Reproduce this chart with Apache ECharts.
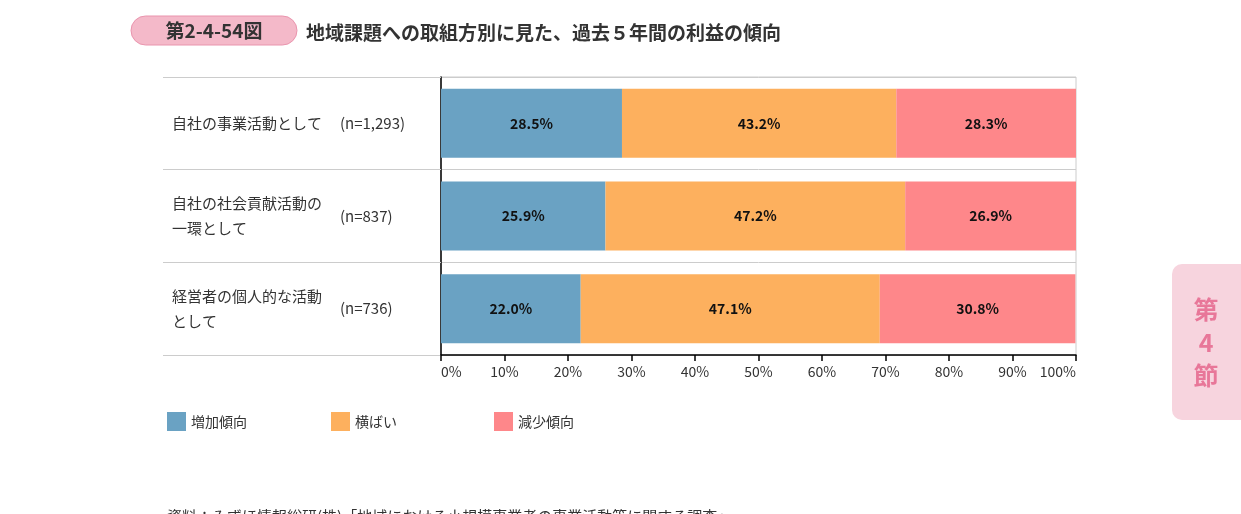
<!DOCTYPE html>
<html>
<head>
<meta charset="utf-8">
<script src="https://cdn.jsdelivr.net/npm/echarts@6/dist/echarts.min.js"></script>
<style>
  html, body { margin: 0; padding: 0; background: #fff; }
  #chart { width: 1241px; height: 514px; }
</style>
</head>
<body>
<div id="chart"></div>
<script>
var categories = ['自社の事業活動として', '自社の社会貢献活動の\n一環として', '経営者の個人的な活動\nとして'];
var sampleSizes = ['(n=1,293)', '(n=837)', '(n=736)'];
var seriesNames = ['増加傾向', '横ばい', '減少傾向'];
var increase = [28.5, 25.9, 22.0];
var flat = [43.2, 47.2, 47.1];
var decrease = [28.3, 26.9, 30.8];
var colors = ['#6aa2c3', '#fdb05e', '#fe878a'];
var legendLefts = [167, 331, 494];

var font = "'Noto Sans CJK JP', 'Noto Sans', sans-serif";
var myChart = echarts.init(document.getElementById('chart'));

function barSeries(name, data, color) {
  return {
    name: name,
    type: 'bar',
    stack: 'total',
    yAxisIndex: 0,
    barWidth: 69,
    data: data,
    itemStyle: { color: color },
    label: {
      show: true,
      position: 'inside',
      color: '#111',
      fontFamily: font,
      fontSize: 14,
      fontWeight: 'bold',
      formatter: function (p) { return p.value.toFixed(1) + '%'; }
    }
  };
}

var legends = seriesNames.map(function (name, i) {
  return {
    left: legendLefts[i],
    top: 412,
    padding: 0,
    itemWidth: 19,
    itemHeight: 19,
    itemGap: 8,
    icon: 'rect',
    textStyle: { fontSize: 14, color: '#333', fontFamily: font },
    data: [name]
  };
});

var option = {
  animation: false,
  textStyle: { fontFamily: font },
  title: {
    text: '地域課題への取組方別に見た、過去５年間の利益の傾向',
    left: 301,
    top: 18,
    textStyle: { fontSize: 19, fontWeight: 'bold', color: '#333', fontFamily: font }
  },
  grid: {
    left: 441, right: 165, top: 77, bottom: 159,
    show: true, borderColor: '#cccccc', borderWidth: 1
  },
  legend: legends,
  xAxis: {
    type: 'value',
    min: 0,
    max: 100,
    interval: 10,
    splitLine: { show: false },
    axisLine: { show: true, lineStyle: { color: '#000', width: 1.5 } },
    axisTick: { show: true, length: 6, lineStyle: { color: '#000', width: 1.5 } },
    axisLabel: {
      formatter: '{value}%',
      fontSize: 14,
      color: '#333',
      margin: 10,
      alignMinLabel: 'left',
      alignMaxLabel: 'right'
    }
  },
  yAxis: [
    {
      type: 'category',
      inverse: true,
      data: categories,
      axisLine: { show: true, lineStyle: { color: '#000', width: 1.5 } },
      axisTick: { show: true, length: 278, lineStyle: { color: '#cccccc', width: 1 } },
      splitLine: { show: true, lineStyle: { color: '#cccccc', width: 1 } },
      axisLabel: {
        align: 'left',
        margin: 269,
        fontSize: 15,
        lineHeight: 25,
        color: '#333'
      }
    },
    {
      type: 'category',
      inverse: true,
      position: 'left',
      data: sampleSizes,
      axisLine: { show: false },
      axisTick: { show: false },
      axisLabel: {
        align: 'left',
        margin: 101,
        fontSize: 15,
        color: '#333'
      }
    }
  ],
  series: [
    barSeries(seriesNames[0], increase, colors[0]),
    barSeries(seriesNames[1], flat, colors[1]),
    barSeries(seriesNames[2], decrease, colors[2])
  ],
  graphic: [
    {
      type: 'rect',
      shape: { x: 131, y: 16, width: 166, height: 29, r: 14.5 },
      style: { fill: '#f4b9c9', stroke: '#e994ad', lineWidth: 1 }
    },
    {
      type: 'text',
      x: 214,
      y: 30.5,
      style: {
        text: '第2-4-54図',
        fill: '#333',
        font: 'bold 19px ' + font,
        align: 'center',
        verticalAlign: 'middle'
      }
    },
    {
      type: 'rect',
      shape: { x: 1172, y: 264, width: 80, height: 156, r: 10 },
      style: { fill: '#f7d4de' }
    },
    {
      type: 'text',
      x: 1206,
      y: 342,
      style: {
        text: '第\n4\n節',
        fill: '#e87799',
        font: 'bold 25px ' + font,
        lineHeight: 33,
        align: 'center',
        verticalAlign: 'middle'
      }
    },
    {
      type: 'text',
      x: 167,
      y: 509,
      style: {
        text: '資料：みずほ情報総研(株)「地域における小規模事業者の事業活動等に関する調査」',
        fill: '#333',
        font: '15px ' + font
      }
    }
  ]
};

myChart.setOption(option);
</script>
</body>
</html>
